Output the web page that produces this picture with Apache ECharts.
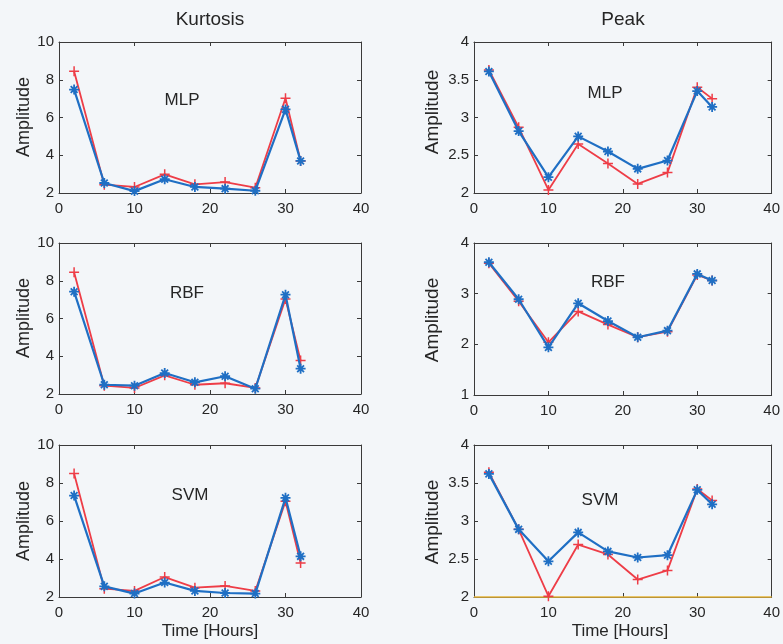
<!DOCTYPE html>
<html>
<head>
<meta charset="utf-8">
<title>Kurtosis and Peak over time</title>
<script src="https://cdn.jsdelivr.net/npm/echarts@6/dist/echarts.min.js"></script>
<style>
  html, body { margin: 0; padding: 0; background: #f3f6f9; }
  #chart { width: 783px; height: 644px; }
</style>
</head>
<body>
<div id="chart"></div>
<script>
// Sampling times (hours)
const hours = [2, 6, 10, 14, 18, 22, 26, 30, 32];

// Kurtosis — red "+" trace and blue "*" trace per classifier
const kurtosisMlpRed  = [8.45, 2.44, 2.32, 2.99, 2.46, 2.58, 2.28, 7.02, 3.70];
const kurtosisMlpBlue = [7.48, 2.53, 2.10, 2.73, 2.32, 2.23, 2.12, 6.43, 3.70];
const kurtosisRbfRed  = [8.45, 2.44, 2.32, 2.99, 2.49, 2.57, 2.32, 7.03, 3.77];
const kurtosisRbfBlue = [7.42, 2.49, 2.44, 3.11, 2.62, 2.94, 2.28, 7.26, 3.34];
const kurtosisSvmRed  = [8.50, 2.44, 2.32, 3.05, 2.49, 2.58, 2.32, 7.04, 3.79];
const kurtosisSvmBlue = [7.34, 2.56, 2.18, 2.76, 2.32, 2.21, 2.18, 7.22, 4.14];

// Peak — red "+" trace and blue "*" trace per classifier
const peakMlpRed  = [3.63, 2.87, 2.04, 2.65, 2.39, 2.12, 2.27, 3.40, 3.25];
const peakMlpBlue = [3.61, 2.82, 2.21, 2.75, 2.55, 2.32, 2.43, 3.35, 3.14];
const peakRbfRed  = [3.60, 2.85, 2.04, 2.65, 2.39, 2.14, 2.25, 3.37, 3.26];
const peakRbfBlue = [3.62, 2.89, 1.94, 2.81, 2.46, 2.14, 2.27, 3.39, 3.26];
const peakSvmRed  = [3.64, 2.89, 2.01, 2.69, 2.56, 2.23, 2.35, 3.42, 3.27];
const peakSvmBlue = [3.62, 2.89, 2.47, 2.85, 2.60, 2.52, 2.55, 3.41, 3.22];
// flat reference trace lying on the lower edge of the SVM peak panel
const peakSvmFloor = [[0, 2], [40, 2]];

// Axis ranges and tick labels
const xTicks = [0, 10, 20, 30, 40];
const kurtosisTicks = [2, 4, 6, 8, 10];
const peakTicksHalf = [2, 2.5, 3, 3.5, 4];
const peakTicksWhole = [1, 2, 3, 4];

const panelTags = ['MLP', 'MLP', 'RBF', 'RBF', 'SVM', 'SVM'];
const columnTitles = ['Kurtosis', 'Peak'];
const yName = 'Amplitude';
const xName = 'Time [Hours]';

const RED = '#ee3d47';
const BLUE = '#1f6fc4';
const AXIS = '#3a3a3a';
const TEXT = '#262626';
const FONT = "'Liberation Sans', Arial, Helvetica, sans-serif";

const plusSymbol = 'path://M5,0L5,10M0,5L10,5';
const starSymbol = 'path://M5,0L5,10M0,5L10,5M1.6,1.6L8.4,8.4M1.6,8.4L8.4,1.6';

const panels = [
  { box: { left: 59,  top: 42,  width: 302, height: 151 }, ticks: kurtosisTicks,  red: kurtosisMlpRed,  blue: kurtosisMlpBlue },
  { box: { left: 474, top: 42,  width: 302, height: 151 }, ticks: peakTicksHalf,  red: peakMlpRed,      blue: peakMlpBlue },
  { box: { left: 59,  top: 243, width: 302, height: 151 }, ticks: kurtosisTicks,  red: kurtosisRbfRed,  blue: kurtosisRbfBlue },
  { box: { left: 474, top: 243, width: 302, height: 152 }, ticks: peakTicksWhole, red: peakRbfRed,      blue: peakRbfBlue },
  { box: { left: 59,  top: 445, width: 302, height: 152 }, ticks: kurtosisTicks,  red: kurtosisSvmRed,  blue: kurtosisSvmBlue },
  { box: { left: 474, top: 445, width: 301, height: 152 }, ticks: peakTicksHalf,  red: peakSvmRed,      blue: peakSvmBlue, floor: peakSvmFloor }
];

const pair = (ys) => hours.map((h, i) => [h, ys[i]]);

const grid = [], xAxis = [], yAxis = [], series = [];

panels.forEach((p, i) => {
  grid.push(Object.assign({ containLabel: false }, p.box));
  const yMin = p.ticks[0], yMax = p.ticks[p.ticks.length - 1];
  const yStep = p.ticks[1] - p.ticks[0];
  const common = {
    axisLine: { show: true, onZero: false, lineStyle: { color: AXIS, width: 1 } },
    axisTick: { show: true, inside: true, length: 4, lineStyle: { color: AXIS } },
    splitLine: { show: false }
  };
  // bottom / left axes carry the labels
  xAxis.push(Object.assign({
    type: 'value', gridIndex: i, position: 'bottom',
    min: xTicks[0], max: xTicks[xTicks.length - 1], interval: xTicks[1] - xTicks[0],
    axisLabel: { color: TEXT, fontSize: 15, fontFamily: FONT, margin: 8 }
  }, common));
  yAxis.push(Object.assign({
    type: 'value', gridIndex: i, position: 'left',
    min: yMin, max: yMax, interval: yStep,
    axisLabel: { color: TEXT, fontSize: 15, fontFamily: FONT, margin: 5 }
  }, common));
  // top / right axes close the box with mirrored ticks
  xAxis.push(Object.assign({
    type: 'value', gridIndex: i, position: 'top',
    min: xTicks[0], max: xTicks[xTicks.length - 1], interval: xTicks[1] - xTicks[0],
    axisLabel: { show: false }
  }, common));
  yAxis.push(Object.assign({
    type: 'value', gridIndex: i, position: 'right',
    min: yMin, max: yMax, interval: yStep,
    axisLabel: { show: false }
  }, common));

  const xi = i * 2, yi = i * 2;
  if (p.floor) {
    series.push({
      type: 'line', xAxisIndex: xi, yAxisIndex: yi, data: p.floor,
      symbol: 'none', clip: false, z: 1,
      lineStyle: { color: '#e6b43a', width: 1.5 }
    });
  }
  series.push({
    name: 'red', type: 'line', xAxisIndex: xi, yAxisIndex: yi, data: pair(p.red),
    symbol: plusSymbol, symbolSize: 10, showSymbol: true, clip: false, z: 2,
    lineStyle: { color: RED, width: 1.8 },
    itemStyle: { color: RED, borderColor: RED, borderWidth: 1.5 }
  });
  series.push({
    name: 'blue', type: 'line', xAxisIndex: xi, yAxisIndex: yi, data: pair(p.blue),
    symbol: starSymbol, symbolSize: 10, showSymbol: true, clip: false, z: 3,
    lineStyle: { color: BLUE, width: 2.2 },
    itemStyle: { color: BLUE, borderColor: BLUE, borderWidth: 1.8 }
  });
});

// text placed around the panels
const tagPos = [[182, 100], [605, 93], [187, 293], [608, 282], [190, 495], [600, 500]];
const graphic = [];
panelTags.forEach((t, i) => {
  graphic.push({ type: 'text', x: tagPos[i][0], y: tagPos[i][1],
    style: { text: t, fill: TEXT, font: '17px ' + FONT, align: 'center', verticalAlign: 'middle' } });
});
[[210, 20], [623, 20]].forEach((pos, i) => {
  graphic.push({ type: 'text', x: pos[0], y: pos[1],
    style: { text: columnTitles[i], fill: TEXT, font: '19px ' + FONT, align: 'center', verticalAlign: 'middle' } });
});
[[24, 117, 18], [433, 112, 19], [24, 318, 18], [433, 320, 19], [24, 521, 18], [433, 522, 19]].forEach((pos) => {
  graphic.push({ type: 'text', x: pos[0], y: pos[1], rotation: Math.PI / 2,
    style: { text: yName, fill: TEXT, font: pos[2] + 'px ' + FONT, align: 'center', verticalAlign: 'middle' } });
});
[[210, 631], [620, 631]].forEach((pos) => {
  graphic.push({ type: 'text', x: pos[0], y: pos[1],
    style: { text: xName, fill: TEXT, font: '17px ' + FONT, align: 'center', verticalAlign: 'middle' } });
});

const chart = echarts.init(document.getElementById('chart'), null, { renderer: 'canvas' });
chart.setOption({
  backgroundColor: '#f3f6f9',
  animation: false,
  grid, xAxis, yAxis, series, graphic
});
</script>
</body>
</html>
